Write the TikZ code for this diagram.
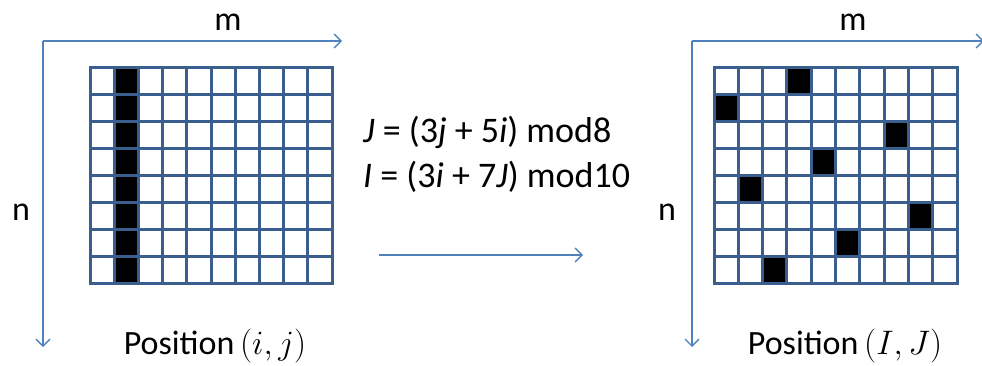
\RequirePackage{fix-cm}
\documentclass[tikz,border=0pt]{standalone}
\usepackage{fontspec}
\setmainfont{Carlito}
\usetikzlibrary{arrows.meta}

\definecolor{axisblue}{RGB}{79,129,189}
\definecolor{gridblue}{RGB}{58,94,142}

\tikzset{
  axis/.style={draw=axisblue, line width=1.3pt, -{Straight Barb[length=7pt,width=14pt]}},
  gridline/.style={draw=gridblue, line width=3pt, line cap=rect},
  cell/.style={fill=black},
  lbl/.style={inner sep=0pt, font=\fontsize{34}{40}\selectfont},
  eqn/.style={inner sep=0pt, anchor=base west, font=\fontsize{36}{44}\selectfont},
}

\begin{document}
\begin{tikzpicture}[x=1pt,y=-1pt]
	\useasboundingbox (0,0) rectangle (982,365);

	% left block: rows i, columns j
	\coordinate (oL) at (43,41);
	\coordinate (mL) at (342,41);
	\coordinate (nL) at (43,347);
	\draw[axis] (oL) -- (mL);
	\draw[axis] (oL) -- (nL);
	\node[lbl] (mlabL) at (228,22) {m};
	\node[lbl] (nlabL) at (21,212) {n};
	\begin{scope}[shift={(90,67)}]
		\fill[cell] (24.2,0) rectangle (48.4,216);
		\foreach \c in {0,...,10}
			\draw[gridline] (\c*24.2,0) -- (\c*24.2,216);
		\foreach \r in {0,...,8}
			\draw[gridline] (0,\r*27) -- (242,\r*27);
	\end{scope}
	\node[lbl, anchor=base] (posL) at (215,354) {Position\,$(i, j)$};

	% the mapping
	\node[eqn] (eqJ) at (363,142) {\textit{J} = (3\textit{j} + 5\textit{i}) mod8};
	\node[eqn] (eqI) at (363,187) {\textit{I} = (3\textit{i} + 7\textit{J}) mod10};
	\coordinate (mapA) at (379,255);
	\coordinate (mapB) at (583,255);
	\draw[axis] (mapA) -- (mapB);

	% right block: rows I, columns J
	\coordinate (oR) at (692,41);
	\coordinate (mR) at (984,41);
	\coordinate (nR) at (692,347);
	\draw[axis] (oR) -- (mR);
	\draw[axis] (oR) -- (nR);
	\node[lbl] (mlabR) at (853,22) {m};
	\node[lbl] (nlabR) at (667,212) {n};
	\begin{scope}[shift={(714,67)}]
		\foreach \r/\c in {0/3,1/0,2/7,3/4,4/1,5/8,6/5,7/2}
			\fill[cell] (\c*24.3,\r*27) rectangle ++(24.3,27);
		\foreach \c in {0,...,10}
			\draw[gridline] (\c*24.3,0) -- (\c*24.3,216);
		\foreach \r in {0,...,8}
			\draw[gridline] (0,\r*27) -- (243,\r*27);
	\end{scope}
	\node[lbl, anchor=base] (posR) at (845,354) {Position\,$(I, J)$};
\end{tikzpicture}
\end{document}
